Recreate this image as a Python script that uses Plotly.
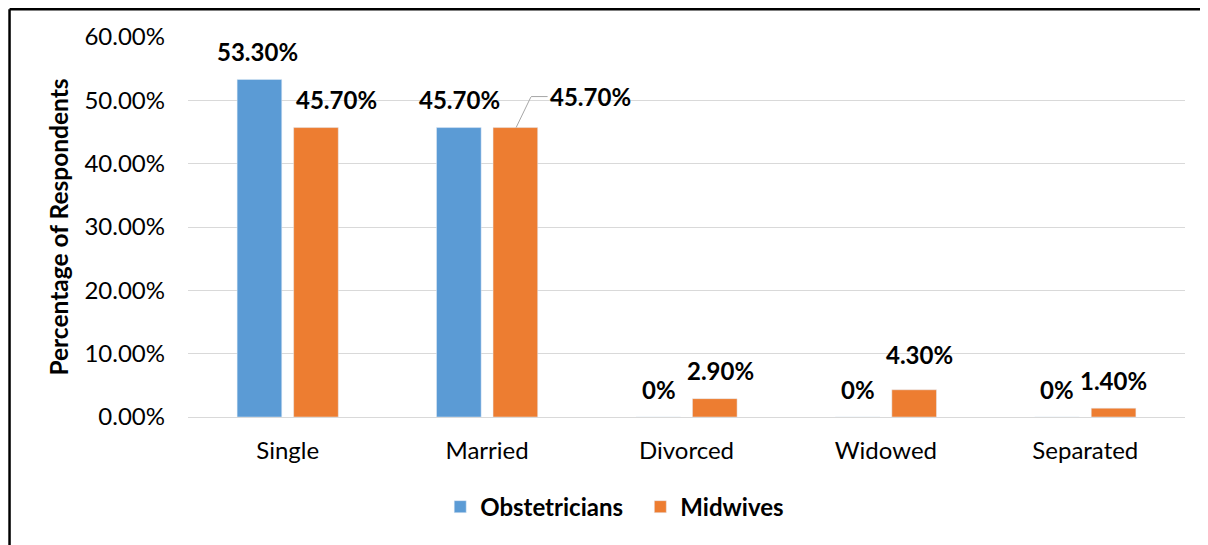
import plotly.graph_objects as go

categories = ["Single", "Married", "Divorced", "Widowed", "Separated"]
obstetricians = [53.3, 45.7, 0, 0, 0]
midwives = [45.7, 45.7, 2.9, 4.3, 1.4]
obst_labels = ["53.30%", "45.70%", "0%", "0%", "0%"]
mid_labels = ["45.70%", "45.70%", "2.90%", "4.30%", "1.40%"]
tick_vals = [0, 10, 20, 30, 40, 50, 60]
tick_text = ["0.00%", "10.00%", "20.00%", "30.00%", "40.00%", "50.00%", "60.00%"]

FONT = "Lato"
FS = 24
BLUE = "#5B9BD5"
ORANGE = "#ED7D31"
LEADER = "#a6a6a6"

# label offsets (pixels) for the midwives labels
mid_xshift = [49, 29, 34, 34, 28]
mid_yshift = [28, 31, 28, 35, 28]

fig = go.Figure()
fig.add_trace(go.Bar(name="<b>Obstetricians</b>&nbsp;&nbsp;", x=categories, y=obstetricians,
                     marker_color=BLUE))
fig.add_trace(go.Bar(name="<b>Midwives</b>", x=categories, y=midwives, marker_color=ORANGE))

lab_font = dict(family=FONT, size=FS, color="black")
tiny = dict(family=FONT, size=1, color="rgba(0,0,0,0)")
annotations = []
for i, c in enumerate(categories):
    annotations.append(dict(x=c, y=obstetricians[i], text="<b>%s</b>" % obst_labels[i],
                            xref="x", yref="y", showarrow=False, xshift=-30 if i == 0 else -28,
                            yshift=28, font=lab_font))
    if c == "Married":
        # label with elbow leader line
        annotations.append(dict(x=c, y=midwives[i], text="<b>%s</b>" % mid_labels[i],
                                xref="x", yref="y", showarrow=False, xshift=103, yshift=31,
                                font=lab_font))
        annotations.append(dict(x=c, y=midwives[i], text="", xref="x", yref="y",
                                showarrow=True, arrowhead=0, arrowwidth=1, arrowcolor=LEADER,
                                xshift=29, ax=15, ay=-31, font=tiny, borderpad=0))
        annotations.append(dict(x=c, y=midwives[i], text="", xref="x", yref="y",
                                showarrow=True, arrowhead=0, arrowwidth=1, arrowcolor=LEADER,
                                xshift=44, yshift=31, ax=17, ay=0, font=tiny, borderpad=0))
    else:
        annotations.append(dict(x=c, y=midwives[i], text="<b>%s</b>" % mid_labels[i],
                                xref="x", yref="y", showarrow=False,
                                xshift=mid_xshift[i], yshift=mid_yshift[i], font=lab_font))

fig.update_layout(
    width=1200, height=537,
    margin=dict(l=180, r=23, t=29, b=128, autoexpand=False),
    plot_bgcolor="white", paper_bgcolor="white",
    barmode="group", bargap=0.433, bargroupgap=0.21,
    font=dict(family=FONT, size=FS, color="black"),
    annotations=annotations,
    legend=dict(orientation="h", x=0.428, xanchor="center", y=-0.237, yanchor="middle",
                font=dict(family=FONT, size=FS, color="black"), itemwidth=30),
    yaxis=dict(range=[0, 60], tickvals=tick_vals, ticktext=tick_text,
               showgrid=True, gridcolor="#d9d9d9", gridwidth=1, zeroline=False,
               ticklabelstandoff=22, automargin=False,
               title=dict(text="<b>Percentage of Respondents</b>", standoff=8,
                          font=dict(family=FONT, size=24.5, color="black"))),
    xaxis=dict(showline=True, linecolor="#d9d9d9", linewidth=1, ticks="",
               ticklabelstandoff=12, automargin=False),
    shapes=[
        dict(type="line", xref="paper", yref="paper", x0=-0.179, x1=-0.179, y0=1.0732, y1=-0.34,
             line=dict(color="black", width=2.5)),
        dict(type="line", xref="paper", yref="paper", x0=-0.179, x1=1.03, y0=1.0732, y1=1.0732,
             line=dict(color="black", width=2.5)),
    ],
)

fig.write_html("out.html")
